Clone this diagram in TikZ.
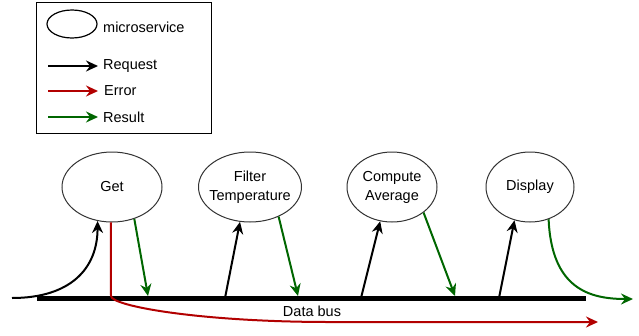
\documentclass[tikz,border=0pt]{standalone}
\usepackage{fontspec}
\setmainfont{Liberation Sans}
\usepackage{xcolor}
\usetikzlibrary{shapes.geometric,arrows.meta,positioning}
\definecolor{errred}{RGB}{178,0,0}
\definecolor{resgreen}{RGB}{0,102,0}

\begin{document}
\begin{tikzpicture}[
    x=1pt, y=-1pt,
    font=\fontsize{14.5}{19}\selectfont,
    service/.style={ellipse, draw=black!80, line width=1pt, minimum width=#1, minimum height=70pt, inner sep=0pt, align=center},
    arrow/.style={-{Stealth[length=12pt,width=11pt,inset=4pt]}, line width=2pt},
    request/.style={arrow, black},
    error/.style={arrow, errred},
    result/.style={arrow, resgreen},
    label/.style={anchor=west, inner sep=0pt}
]
    \useasboundingbox (0,0) rectangle (639,335);

    % legend
    \node[draw, line width=1pt, minimum width=175pt, minimum height=131pt] (legend) at (123.5,67.5) {};
    \node[ellipse, draw, line width=1.2pt, minimum width=50pt, minimum height=28pt] (lservice) at (72,24) {};
    \node[label] (lservicetxt) at (103,27) {microservice};
    \coordinate (lreqa) at (48,66);  \coordinate (lreqb) at (98,66);
    \coordinate (lerra) at (48,91);  \coordinate (lerrb) at (98,91);
    \coordinate (lresa) at (48,117); \coordinate (lresb) at (98,117);
    \draw[request] (lreqa) -- (lreqb);
    \draw[error] (lerra) -- (lerrb);
    \draw[result] (lresa) -- (lresb);
    \node[label, right=5pt of lreqb] (lreqtxt) {Request};
    \node[label, right=6pt of lerrb] (lerrtxt) {Error};
    \node[label, right=5pt of lresb] (lrestxt) {Result};

    % services
    \node[service=100pt] (get) at (112,187) {Get};
    \node[service=103pt, inner xsep=-6pt] (filter) at (250,187) {Filter\\Temperature};
    \node[service=90pt] (compute) at (392,187) {Compute\\Average};
    \node[service=88pt] (display) at (530,187) {Display};

    % data bus
    \coordinate (busl) at (37,298);
    \coordinate (busr) at (586,298);
    \draw[line width=5pt] (busl) -- (busr);
    \node[below=4pt of busl-|filter.east, xshift=10pt] (buslabel) {Data bus};

    \coordinate (reqin) at (12,298);
    \coordinate (getres) at (148,296);
    \coordinate (filterreq) at (225,298);
    \coordinate (filterres) at (298,296);
    \coordinate (computereq) at (361,298);
    \coordinate (computeres) at (455,296);
    \coordinate (displayreq) at (499,298);
    \coordinate (displayout) at (633,299);
    \coordinate (errbend) at (111,296);
    \coordinate (errmid) at (330,322);
    \coordinate (errout) at (598,322);

    \draw[request] (reqin) .. controls +(58,0) and +(0,48) .. (get.247);
    \draw[error] (get.268) -- (errbend) .. controls +(0,10) and +(-130,0) .. (errmid) -- (errout);
    \draw[result] (get.-55) -- (getres);
    \draw[request] (filterreq) -- (filter.254);
    \draw[result] (filter.-46) -- (filterres);
    \draw[request] (computereq) -- (compute.251);
    \draw[result] (compute.-39) -- (computeres);
    \draw[request] (displayreq) -- (display.245);
    \draw[result] (display.-60) .. controls +(3,70) and +(-43,0) .. (displayout);
\end{tikzpicture}
\end{document}
